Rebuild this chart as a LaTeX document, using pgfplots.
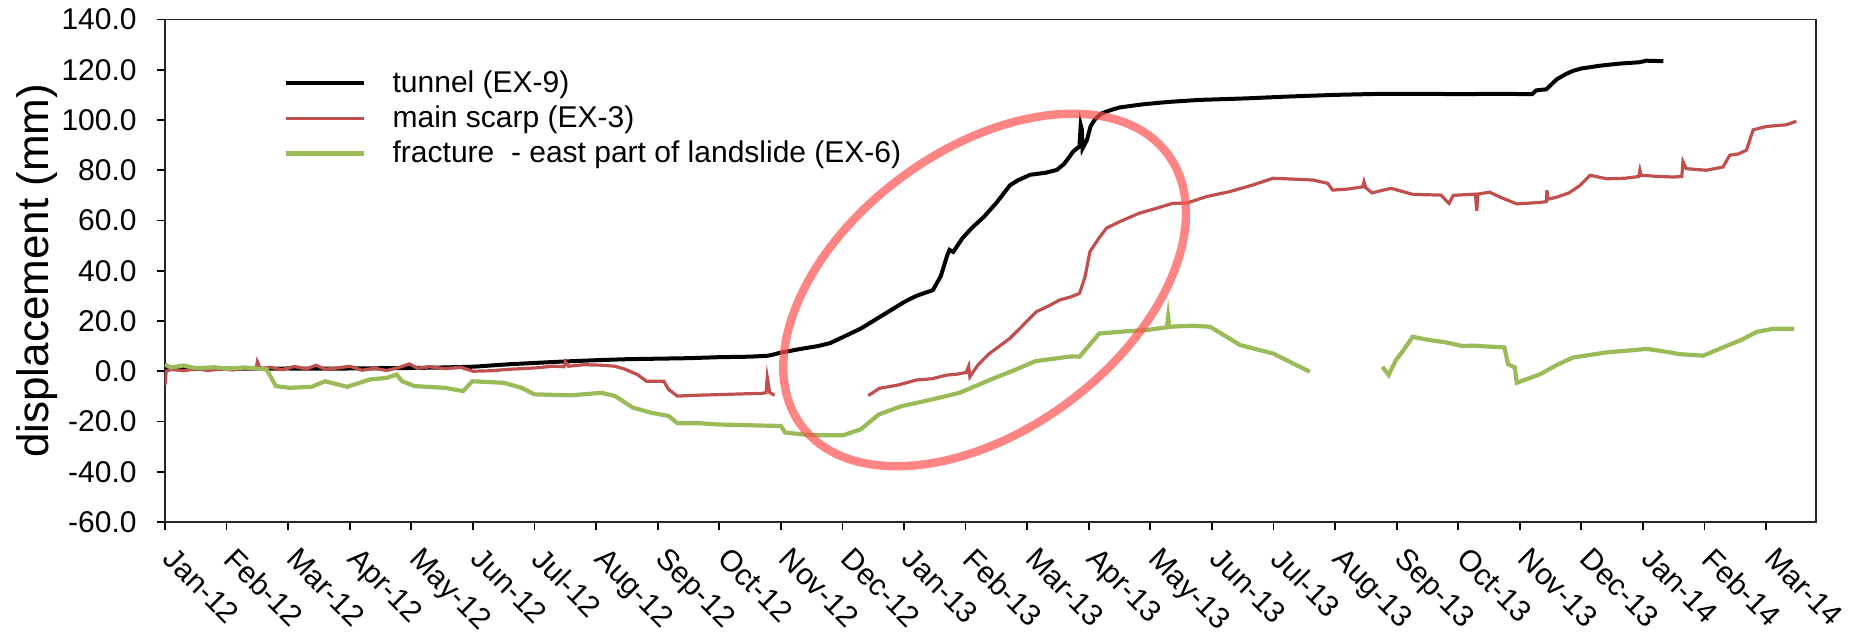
\documentclass[border=0pt]{standalone}
\usepackage{fontspec}
\setmainfont{Liberation Sans}
\usepackage{pgfplots}
\usepackage{pgfplotstable}
\pgfplotsset{compat=1.18}

\definecolor{tunnelc}{RGB}{0,0,0}
\definecolor{scarpc}{RGB}{192,80,77}
\definecolor{fracc}{RGB}{155,187,89}
\definecolor{ringc}{RGB}{255,80,80}

% x = months since Jan-12 (0 = Jan-12, 26 = Mar-14), y = displacement in mm
\pgfplotstableread{
x y
0 0.8
0.5 0.9
1.0 1.0
1.5 1.0
2.0 1.1
2.5 1.0
3.0 1.1
3.5 1.2
4.0 1.3
4.5 1.5
5.0 1.8
5.3 2.3
5.6 2.8
6.0 3.3
6.5 3.9
7.0 4.4
7.5 4.8
8.0 5.0
8.5 5.2
9.0 5.6
9.5 5.8
9.8 6.2
10.0 7.4
10.3 8.8
10.6 10.0
10.8 11.2
11.0 13.5
11.3 17.0
11.6 21.5
11.8 24.5
12.0 27.5
12.2 30.0
12.47 32.3
12.6 38.0
12.7 46.0
12.74 48.3
12.8 47.5
12.95 53.0
13.1 57.0
13.3 61.5
13.5 67.0
13.72 74.0
13.85 76.0
14.05 78.2
14.3 79.0
14.48 80.1
14.6 82.5
14.75 87.5
14.85 89.5
14.87 98.0
14.89 96.0
14.9 88.7
14.97 92.0
15.03 97.5
15.1 100.2
15.2 102.5
15.34 103.8
15.5 105.0
15.9 106.3
16.3 107.2
16.8 108.0
17.56 108.6
18.2 109.3
19.0 110.0
19.72 110.4
20.5 110.4
21.0 110.3
21.67 110.4
22.2 110.3
22.27 111.8
22.43 112.2
22.6 116.2
22.75 118.3
22.87 119.6
23.0 120.5
23.3 121.6
23.6 122.4
23.95 123.0
24.05 123.6
24.33 123.4
}\tunnel

\pgfplotstableread{
x y
0 -5.5
0.02 0
0.1 0.8
0.3 0.2
0.5 1.0
0.7 0.3
0.9 0.9
1.1 0.5
1.3 1.2
1.48 1.0
1.5 3.8
1.55 0.8
1.7 1.6
1.9 0.6
2.1 1.9
2.3 0.9
2.45 2.4
2.6 0.8
2.8 1.3
3.0 2.0
3.2 0.4
3.4 1.2
3.6 0.3
3.8 1.5
3.97 2.9
4.1 1.2
4.3 1.8
4.55 1.0
4.8 1.6
5.0 0.0
5.3 0.2
5.6 0.8
6.0 1.3
6.3 2.0
6.48 1.8
6.5 3.8
6.55 2.0
6.8 2.6
7.1 2.4
7.3 2.0
7.45 1.0
7.67 -1.3
7.82 -4.0
8.1 -4.0
8.18 -7.3
8.32 -9.9
8.7 -9.5
9.0 -9.3
9.4 -9.0
9.7 -8.8
9.76 -8.5
9.78 -2.5
9.82 -8.5
9.9 -9.6
9.95 nan
11.42 -9.7
11.6 -6.8
11.9 -5.5
12.2 -3.5
12.45 -3.0
12.7 -1.5
12.85 -1.2
13.01 -0.5
13.05 2.0
13.07 -2.2
13.2 2.5
13.39 7.1
13.55 10.0
13.72 13.1
13.9 17.5
14.15 23.7
14.35 26.0
14.53 28.4
14.7 29.5
14.85 31.0
14.94 37.6
15.02 47.6
15.18 53.5
15.29 57.0
15.5 59.5
15.82 62.9
16.05 64.5
16.36 66.8
16.6 67.0
16.91 69.5
17.29 71.5
17.66 74.1
17.99 76.8
18.3 76.5
18.64 76.1
18.88 74.8
18.96 72.1
19.2 72.5
19.45 73.4
19.47 75.4
19.5 73.0
19.6 71.0
19.91 72.8
20.26 70.4
20.72 70.1
20.85 66.8
20.92 70.0
21.28 70.5
21.3 63.9
21.32 70.5
21.51 71.3
21.68 69.3
21.95 66.6
22.33 67.2
22.43 67.5
22.44 72.0
22.46 68.5
22.6 69.3
22.8 71.0
22.98 74.0
23.14 78.0
23.41 76.6
23.7 76.8
23.93 77.5
23.95 80.0
23.97 78.0
24.2 77.6
24.49 77.3
24.63 77.5
24.65 83.4
24.7 80.7
24.76 80.5
25.03 80.0
25.3 81.3
25.41 86.0
25.55 86.5
25.68 88.0
25.79 96.1
26.0 97.4
26.33 98.1
26.49 99.5
}\scarp

\pgfplotstableread{
x y
0 2.6
0.1 1.5
0.3 2.3
0.5 1.2
0.8 1.6
1.0 1.0
1.3 1.5
1.65 0.7
1.8 -5.9
2.02 -6.6
2.38 -6.2
2.6 -4.0
2.96 -6.2
3.32 -3.3
3.61 -2.6
3.76 -1.3
3.85 -4.0
4.05 -5.9
4.55 -6.6
4.84 -7.9
4.99 -4.0
5.5 -4.6
5.79 -6.6
6.0 -9.2
6.58 -9.6
7.09 -8.6
7.31 -9.9
7.6 -14.5
7.89 -16.5
8.18 -17.8
8.32 -20.7
8.67 -20.7
9.0 -21.2
9.5 -21.5
10.0 -21.8
10.07 -24.4
10.5 -25.5
11.01 -25.5
11.3 -23.1
11.59 -17.2
11.96 -13.9
12.46 -11.2
12.9 -8.6
13.41 -3.3
13.8 0.5
14.13 4.0
14.71 5.9
14.85 5.8
15.17 15.0
15.5 15.7
15.94 16.4
16.27 17.5
16.29 21.7
16.31 17.7
16.67 18.1
16.97 17.7
17.24 13.7
17.46 10.4
17.99 7.1
18.26 3.8
18.59 -0.2
18.7 nan
19.77 1.8
19.87 -1.5
19.99 4.5
20.1 8.0
20.26 13.7
20.53 12.4
20.8 11.5
21.07 10.0
21.24 10.2
21.5 9.8
21.75 9.5
21.81 2.8
21.92 1.5
21.95 -4.6
22.33 -1.2
22.6 2.5
22.87 5.5
23.41 7.5
23.8 8.3
24.06 8.9
24.26 8.2
24.6 6.8
24.98 6.2
25.3 9.5
25.6 12.5
25.84 15.6
26.11 16.9
26.46 16.9
}\fracture

\begin{document}
\begin{tikzpicture}
\useasboundingbox (-82.5pt,-57pt) rectangle (848pt,261pt);
\begin{axis}[
  at={(0pt,0pt)}, anchor=south west,
  scale only axis,
  width=825.5pt, height=251.25pt,
  xmin=0, xmax=26.81,
  ymin=-60, ymax=140,
  unbounded coords=jump,
  axis line style={line width=0.9pt, black!85},
  xtick={0,...,26},
  xticklabels={Jan-12,Feb-12,Mar-12,Apr-12,May-12,Jun-12,Jul-12,Aug-12,Sep-12,Oct-12,Nov-12,Dec-12,Jan-13,Feb-13,Mar-13,Apr-13,May-13,Jun-13,Jul-13,Aug-13,Sep-13,Oct-13,Nov-13,Dec-13,Jan-14,Feb-14,Mar-14},
  ytick={-60,-40,...,140},
  yticklabels={-60.0,-40.0,-20.0,0.0,20.0,40.0,60.0,80.0,100.0,120.0,140.0},
  tick align=outside,
  xtick pos=bottom, ytick pos=left,
  major tick length=4pt,
  tick style={line width=0.9pt, black},
  ticklabel style={font=\fontsize{15}{18}\selectfont},
  xticklabel style={xshift=14pt, yshift=-1pt, rotate=-45, anchor=north west, inner sep=0pt, yshift=-10.5pt, xshift=-1pt},
  yticklabel style={inner sep=0pt, xshift=-10pt},
  ylabel={displacement (mm)},
  every axis y label/.style={at={(axis description cs:-0.0775,0.5)}, rotate=90, anchor=center, font=\fontsize{22}{26}\selectfont},
  legend style={draw=none, fill=none, at={(axis description cs:0.0715,0.8995)}, anchor=north west,
    inner sep=0pt, row sep=5.3pt, column sep=13.5pt, font=\fontsize{15}{18}\selectfont,
    nodes={inner sep=0pt}},
  legend cell align=left,
  legend image code/.code={\draw[#1] (0pt,0pt) -- (39pt,0pt);},
]
\addplot[tunnelc, line width=2pt] table[x=x, y=y] {\tunnel};
\addlegendentry{tunnel (EX-9)}
\addplot[scarpc, line width=1.6pt] table[x=x, y=y] {\scarp};
\addlegendentry{main scarp (EX-3)}
\addplot[fracc, line width=2.1pt] table[x=x, y=y] {\fracture};
\addlegendentry{fracture\ \ - east part of landslide (EX-6)}
\coordinate (ringcentre) at (axis cs:13.31,32.34);
\end{axis}
% highlight ring around the acceleration phase
\draw[ringc, draw opacity=0.7, line width=4.2pt, rotate around={36.5:(ringcentre)}]
  (ringcentre) ellipse [x radius=114pt, y radius=70pt];
\end{tikzpicture}
\end{document}
